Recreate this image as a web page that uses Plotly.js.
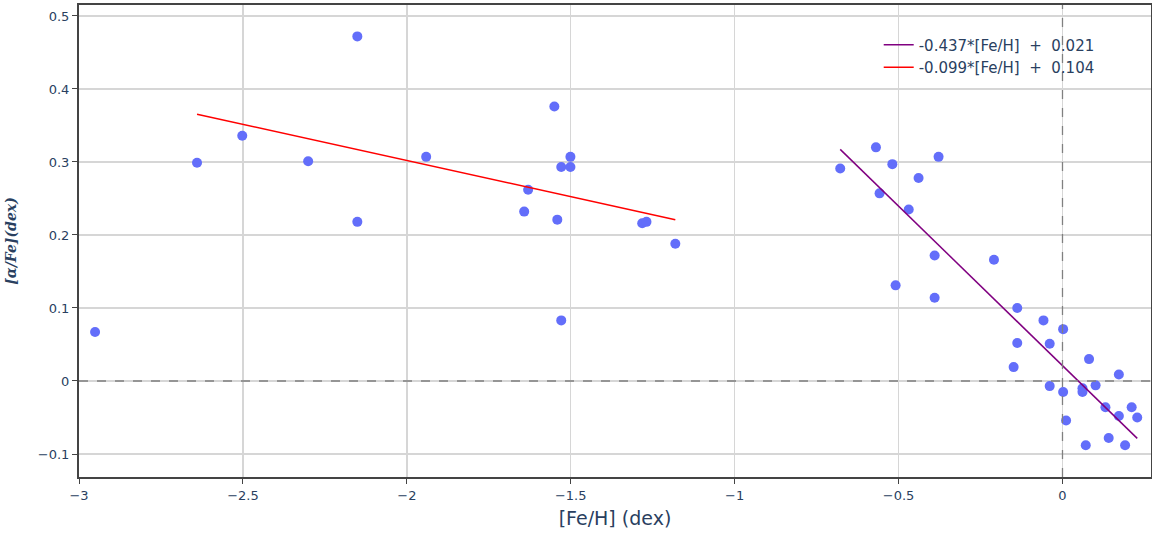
<!DOCTYPE html>
<html>
<head>
<meta charset="utf-8">
<script src="https://cdn.plot.ly/plotly-3.0.1.min.js"></script>
<style>
  html, body { margin: 0; padding: 0; background: #fff; }
  #chart { width: 1152px; height: 533px; }
</style>
</head>
<body>
<div id="chart"></div>
<script>
// Metal-poor stars used in the low-metallicity fit: [Fe/H] and [alpha/Fe]
const feh_poor = [-2.640, -2.502, -2.301, -2.151, -2.151, -1.941, -1.550, -1.501,
                  -1.529, -1.501, -1.630, -1.642, -1.541, -1.529, -1.282, -1.269, -1.181];
const alpha_poor = [0.299, 0.336, 0.301, 0.472, 0.218, 0.307, 0.376, 0.307,
                    0.293, 0.293, 0.262, 0.232, 0.221, 0.083, 0.216, 0.218, 0.188];

// Most metal-poor star, outside the fitted range
const feh_extra = [-2.951];
const alpha_extra = [0.067];

// Metal-rich stars
const feh_rich = [-0.678, -0.569, -0.519, -0.378, -0.439, -0.558, -0.469, -0.390, -0.209,
                  -0.509, -0.390, -0.138, -0.058, 0.002, -0.138, -0.039, 0.081, -0.149,
                  0.172, -0.039, 0.101, 0.002, 0.061, 0.061, 0.131, 0.211, 0.172, 0.228,
                  0.011, 0.141, 0.071, 0.191];
const alpha_rich = [0.291, 0.320, 0.297, 0.307, 0.278, 0.257, 0.235, 0.172, 0.166,
                    0.131, 0.114, 0.100, 0.083, 0.071, 0.052, 0.051, 0.030, 0.019,
                    0.009, -0.007, -0.006, -0.015, -0.010, -0.015, -0.036, -0.036, -0.048, -0.050,
                    -0.054, -0.078, -0.088, -0.088];

// Linear fits: [alpha/Fe] = slope*[Fe/H] + intercept
const fit_rich = { slope: -0.437, intercept: 0.021 };
const fit_poor = { slope: -0.099, intercept: 0.104 };

function fitLine(xs, fit) {
  const lo = Math.min(...xs), hi = Math.max(...xs);
  return { x: [lo, hi], y: [fit.slope * lo + fit.intercept, fit.slope * hi + fit.intercept] };
}
function fitLabel(fit) {
  const sp = '\u00a0\u00a0';
  return fit.slope.toFixed(3) + '*[Fe/H]' + sp + '+' + sp + fit.intercept.toFixed(3);
}

const allFeh = feh_extra.concat(feh_poor, feh_rich);
const allAlpha = alpha_extra.concat(alpha_poor, alpha_rich);

const lr = fitLine(feh_rich, fit_rich);
const lp = fitLine(feh_poor, fit_poor);

const mainFont = 'DejaVu Sans, Verdana, sans-serif';

const traces = [
  {
    x: allFeh, y: allAlpha, type: 'scatter', mode: 'markers',
    marker: { color: '#636efa', size: 10 },
    showlegend: false
  },
  {
    x: lr.x, y: lr.y, type: 'scatter', mode: 'lines',
    line: { color: 'purple', width: 1.5 },
    name: fitLabel(fit_rich)
  },
  {
    x: lp.x, y: lp.y, type: 'scatter', mode: 'lines',
    line: { color: 'red', width: 1.5 },
    name: fitLabel(fit_poor)
  }
];

const axisCommon = {
  showline: true, linecolor: '#444', linewidth: 2, mirror: true,
  showgrid: true, gridcolor: '#d6d6d6', gridwidth: 1.5,
  zeroline: false,
  ticks: 'outside', ticklen: 5, tickcolor: '#444', tickwidth: 1,
  tickfont: { family: mainFont, size: 13, color: '#2a3f5f' }
};

const layout = {
  width: 1152, height: 533,
  margin: { l: 79, r: 1, t: 5, b: 56 },
  paper_bgcolor: '#fff', plot_bgcolor: '#fff',
  font: { family: mainFont, color: '#2a3f5f' },
  xaxis: Object.assign({}, axisCommon, {
    range: [-3.0, 0.27], dtick: 0.5,
    title: { text: '[Fe/H] (dex)', font: { family: mainFont, size: 19, color: '#2a3f5f' }, standoff: 10 }
  }),
  yaxis: Object.assign({}, axisCommon, {
    range: [-0.1315, 0.515], dtick: 0.1,
    title: { text: '<b><i>[α/Fe](dex)</i></b>', font: { family: 'DejaVu Serif, serif', size: 14, color: '#2a3f5f' }, standoff: 18 }
  }),
  legend: {
    x: 0.746, y: 0.95, xanchor: 'left', yanchor: 'top',
    bgcolor: 'rgba(0,0,0,0)',
    font: { family: mainFont, size: 15, color: '#2a3f5f' },
    tracegroupgap: 0
  },
  // dashed reference lines at [Fe/H] = 0 and [alpha/Fe] = 0
  shapes: [
    { type: 'line', xref: 'x', yref: 'paper', x0: 0, x1: 0, y0: 0, y1: 1, layer: 'above',
      line: { color: 'gray', width: 1.3, dash: 'dash' } },
    { type: 'line', xref: 'paper', yref: 'y', x0: 0, x1: 1, y0: 0, y1: 0, layer: 'above',
      line: { color: 'gray', width: 1.3, dash: 'dash' } }
  ]
};

Plotly.newPlot('chart', traces, layout, { displayModeBar: false, staticPlot: true });
</script>
</body>
</html>
